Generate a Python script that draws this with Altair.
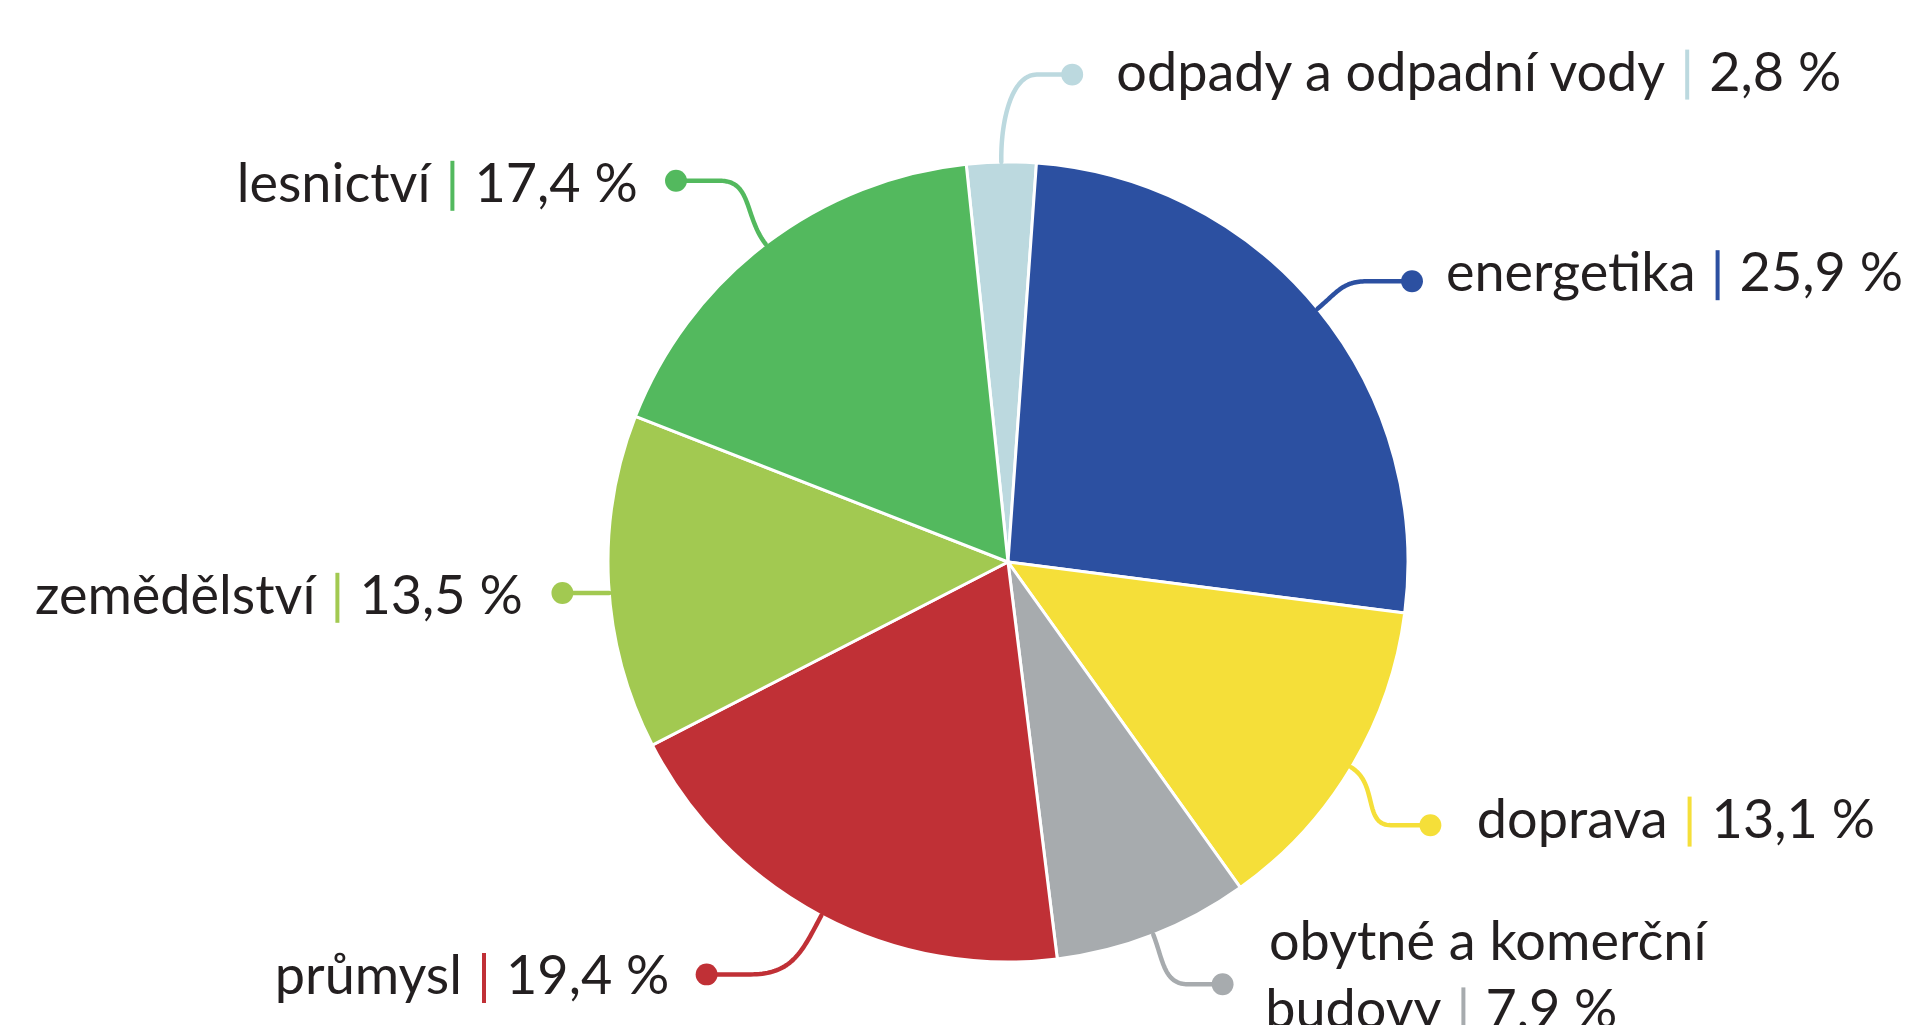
import math
import numpy as np
import pandas as pd
import altair as alt

# ---- data ----
categories = ["odpady a odpadní vody", "energetika", "doprava",
              "obytné a komerční budovy", "průmysl", "zemědělství", "lesnictví"]
values = [2.8, 25.9, 13.1, 7.9, 19.4, 13.5, 17.4]
colors = ["#bcd9df", "#2c50a1", "#f5df39", "#a7abae", "#c03036", "#a2c951", "#53b95e"]

# text shown next to the coloured bar (two-line label: first line separate)
bar_names = ["odpady a odpadní vody", "energetika", "doprava", "budovy",
             "průmysl", "zemědělství", "lesnictví"]
first_lines = ["", "", "", "obytné a komerční", "", "", ""]

# ---- label layout (pie-radius units, pie centre = 0,0, y up) ----
bar_x = [1.698, 1.774, 1.704, 1.1385, -1.310, -1.6765, -1.389]
text_y = [1.2185, 0.717, -0.649, -1.126, -1.040, -0.0895, 0.9405]
dot_x = [0.1605, 1.010, 1.056, 0.5365, -0.7535, -1.114, -0.830]
dot_y = [1.2185, 0.702, -0.658, -1.0555, -1.031, -0.0775, 0.953]
first_line_x = [0, 0, 0, 0.6525, 0, 0, 0]
first_line_y = [0, 0, 0, -0.9545, 0, 0, 0]

START = math.radians(-6.0)
W, H = 1900, 1017
R = 400
FONT = "Lato"
FS = 54
TXT = "#231f20"

X = alt.Scale(domain=[-2.5, 2.25], nice=False, zero=False)
Y = alt.Scale(domain=[-1.1575, 1.385], nice=False, zero=False)
CS = alt.Scale(domain=categories, range=colors)

slices = pd.DataFrame({"category": categories, "value": values,
                       "order": list(range(len(categories)))})

# mid angles from the data
total = sum(values)
cum = np.cumsum(values)
mids = [START + 2 * math.pi * (c - v / 2) / total for c, v in zip(cum, values)]

def fmt(v):
    return f"{v:.1f}".replace(".", ",") + " %"

labels = pd.DataFrame({
    "category": categories,
    "name": bar_names,
    "val": [fmt(v) for v in values],
    "bx": bar_x,
    "ty": text_y,
    "y0": [t - 0.0625 for t in text_y],
    "y1": [t + 0.0625 for t in text_y],
    "dx_": dot_x,
    "dy_": dot_y,
})

first = pd.DataFrame({"category": categories, "text": first_lines,
                      "x": first_line_x, "y": first_line_y})
first = first[first["text"] != ""]

# leader lines: curve leaving the pie edge radially, ending horizontal at the dot
rows = []
for i, c in enumerate(categories):
    a = mids[i]
    d = np.array([math.sin(a), math.cos(a)])
    p0 = d * 1.0
    if abs(p0[1] - dot_y[i]) < 0.06:
        # nearly level: straight horizontal leader from the edge
        sx = math.copysign(math.sqrt(1 - dot_y[i] ** 2), p0[0])
        pts = [np.array([sx, dot_y[i]]), np.array([dot_x[i], dot_y[i]])]
    else:
        sgn = 1.0 if dot_x[i] > p0[0] else -1.0
        h = min(0.11, 0.5 * abs(dot_x[i] - p0[0]))
        p3 = np.array([dot_x[i] - sgn * h, dot_y[i]])
        dist = float(np.linalg.norm(p3 - p0))
        L1 = 0.45 * dist
        L2 = min(0.45 * dist, 0.7 * abs(p3[0] - p0[0]))
        p1 = p0 + L1 * d
        p2 = p3 - sgn * L2 * np.array([1.0, 0.0])
        pts = []
        for t in np.linspace(0, 1, 40):
            pts.append(((1 - t) ** 3) * p0 + 3 * ((1 - t) ** 2) * t * p1
                       + 3 * (1 - t) * t * t * p2 + t ** 3 * p3)
        pts.append(np.array([dot_x[i], dot_y[i]]))
    for k, p in enumerate(pts):
        rows.append({"category": c, "i": k, "x": float(p[0]), "y": float(p[1])})
lines = pd.DataFrame(rows)

pie = alt.Chart(slices).mark_arc(outerRadius=R, stroke="white", strokeWidth=3).encode(
    theta=alt.Theta("value:Q", stack=True,
                    scale=alt.Scale(range=[START, START + 2 * math.pi])),
    order=alt.Order("order:Q"),
    color=alt.Color("category:N", scale=CS, legend=None),
    x=alt.value(1000),
    y=alt.value(554),
)

leader = alt.Chart(lines).mark_line(strokeWidth=4.5, strokeCap="round",
                                    strokeJoin="round").encode(
    x=alt.X("x:Q", scale=X, axis=None),
    y=alt.Y("y:Q", scale=Y, axis=None),
    color=alt.Color("category:N", scale=CS, legend=None),
    order=alt.Order("i:Q"),
)

dots = alt.Chart(labels).mark_circle(size=480, opacity=1).encode(
    x=alt.X("dx_:Q", scale=X, axis=None),
    y=alt.Y("dy_:Q", scale=Y, axis=None),
    color=alt.Color("category:N", scale=CS, legend=None),
)

bars = alt.Chart(labels).mark_rule(strokeWidth=4).encode(
    x=alt.X("bx:Q", scale=X, axis=None),
    y=alt.Y("y0:Q", scale=Y, axis=None),
    y2="y1:Q",
    color=alt.Color("category:N", scale=CS, legend=None),
)

names = alt.Chart(labels).mark_text(align="right", baseline="middle", dx=-22,
                                    font=FONT, fontSize=FS, color=TXT).encode(
    x=alt.X("bx:Q", scale=X, axis=None),
    y=alt.Y("ty:Q", scale=Y, axis=None),
    text="name:N",
)

vals = alt.Chart(labels).mark_text(align="left", baseline="middle", dx=22,
                                   font=FONT, fontSize=FS, color=TXT).encode(
    x=alt.X("bx:Q", scale=X, axis=None),
    y=alt.Y("ty:Q", scale=Y, axis=None),
    text="val:N",
)

firsts = alt.Chart(first).mark_text(align="left", baseline="middle",
                                    font=FONT, fontSize=FS, color=TXT).encode(
    x=alt.X("x:Q", scale=X, axis=None),
    y=alt.Y("y:Q", scale=Y, axis=None),
    text="text:N",
)

chart = alt.layer(pie, leader, dots, bars, names, vals, firsts).properties(
    width=W, height=H,
    autosize=alt.AutoSizeParams(type="none"),
    padding=0,
    background="white",
).configure_view(stroke=None)

chart.save("out.html", embed_options={"renderer": "svg", "actions": False})
